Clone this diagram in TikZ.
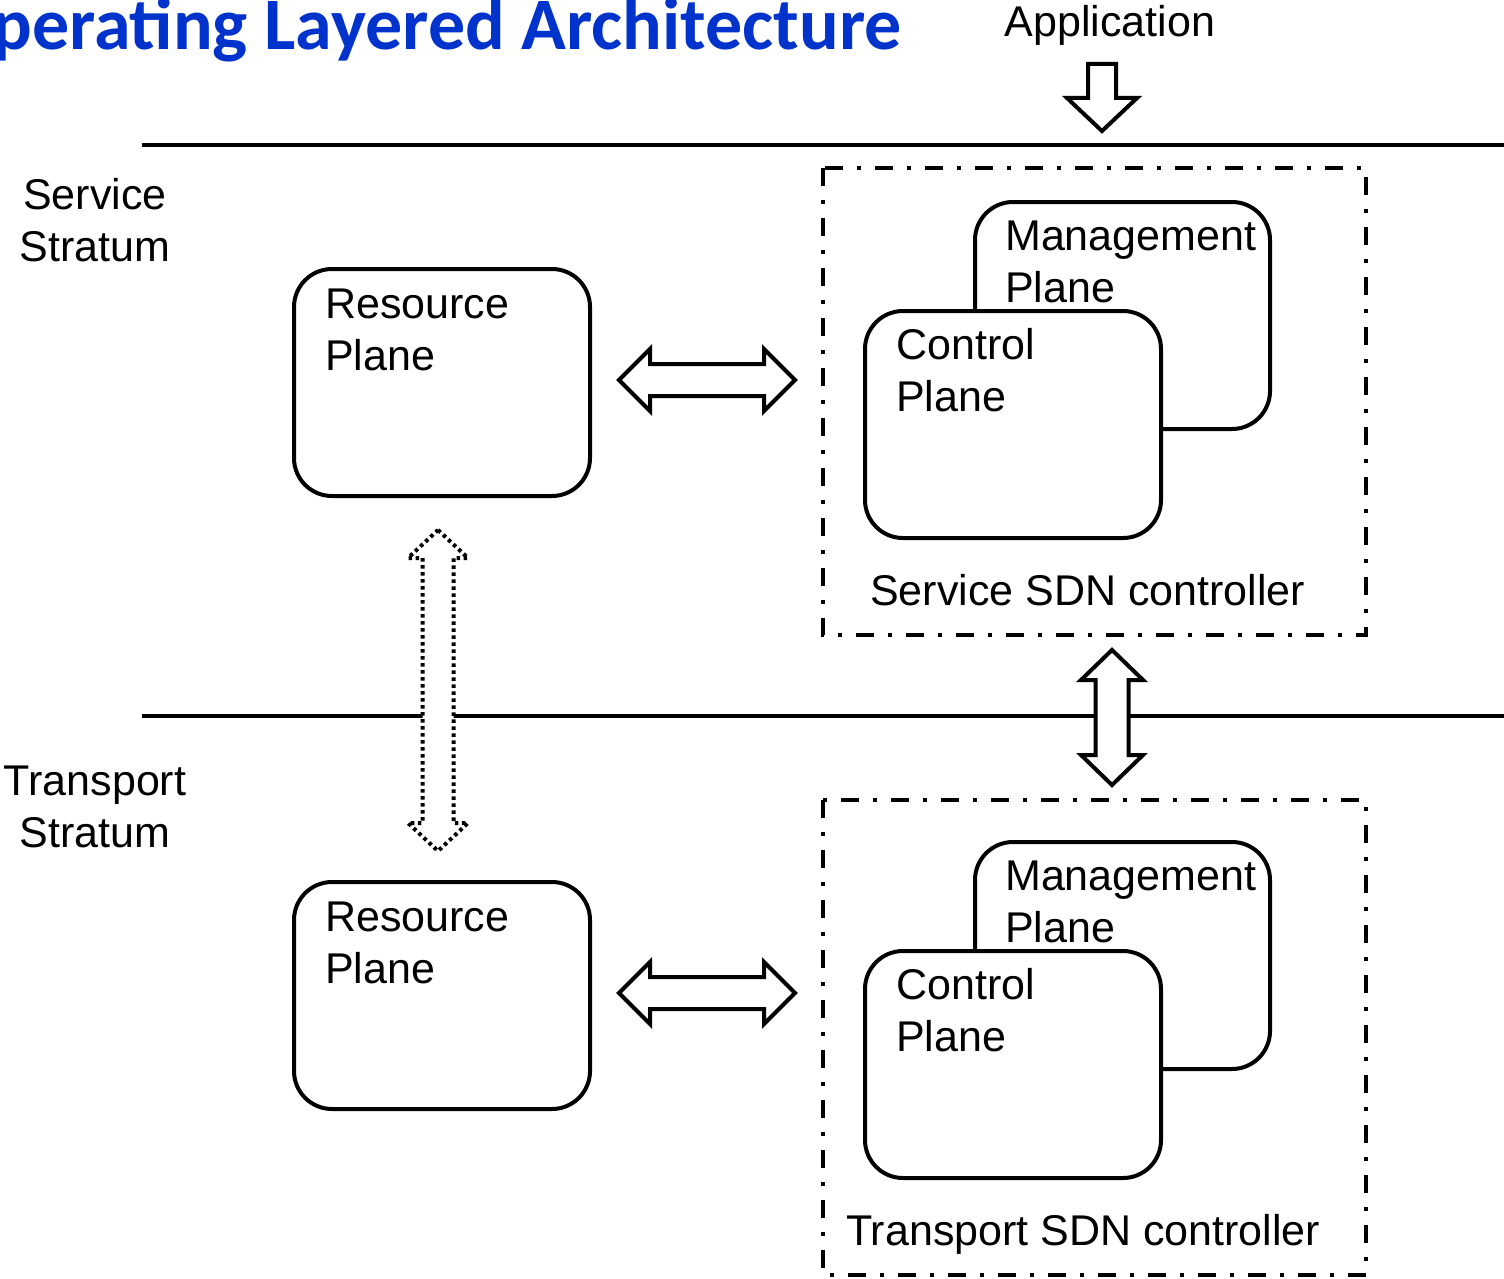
\documentclass[tikz,border=0pt]{standalone}
\usepackage{fontspec}
\setmainfont{Liberation Sans}
\newfontfamily\titlefont{Carlito}
\usetikzlibrary{calc}
\definecolor{titleblue}{RGB}{0,51,204}
% horizontal double block arrow: style, left tip x, right tip x, cy, shaft half, head half, head length
\newcommand\hdblock[7]{%
  \draw[#1] (#2,#4) -- (#2+#7,#4-#6) -- (#2+#7,#4-#5) -- (#3-#7,#4-#5) -- (#3-#7,#4-#6) -- (#3,#4)
    -- (#3-#7,#4+#6) -- (#3-#7,#4+#5) -- (#2+#7,#4+#5) -- (#2+#7,#4+#6) -- cycle;}
% vertical double block arrow: style, cx, top tip y, bottom tip y, shaft half, head half, head length
\newcommand\vdblock[7]{%
  \draw[#1] (#2,#3) -- (#2+#6,#3+#7) -- (#2+#5,#3+#7) -- (#2+#5,#4-#7) -- (#2+#6,#4-#7) -- (#2,#4)
    -- (#2-#6,#4-#7) -- (#2-#5,#4-#7) -- (#2-#5,#3+#7) -- (#2-#6,#3+#7) -- cycle;}
\begin{document}
\begin{tikzpicture}[x=1pt,y=-1pt,
  box/.style={draw,line width=4pt,rounded corners=38pt,fill=white,inner sep=0pt,outer sep=0pt,anchor=north west},
  lbl/.style={inner sep=0pt,font=\fontsize{43}{52}\selectfont,anchor=base west},
  clbl/.style={inner sep=0pt,font=\fontsize{43}{52}\selectfont,anchor=base},
  ctrl/.style={draw,line width=4pt,dash pattern=on 18pt off 14pt on 4pt off 14pt},
  blk/.style={draw,line width=4pt,fill=white,line join=miter},
  dotblk/.style={draw,line width=4pt,fill=white,dash pattern=on 3.5pt off 3.5pt},
  stratum/.style={line width=4pt}]
\useasboundingbox (0,0) rectangle (1504,1279);

% title
\node[inner sep=0pt,anchor=base east,text=titleblue,font=\titlefont\bfseries\fontsize{74}{84}\selectfont] (title) at (902,50) {perating Layered Architecture};
\node[clbl] (app) at (1110,37) {Application};

% stratum lines
\coordinate (l1a) at (142,145); \coordinate (l1b) at (1504,145);
\coordinate (l2a) at (142,716); \coordinate (l2b) at (1504,716);
\draw[stratum] (l1a) -- (l1b);
\draw[stratum] (l2a) -- (l2b);

% application arrow
\draw[blk] (1088,64) -- (1116,64) -- (1116,98) -- (1137,98) -- (1102,131) -- (1067,98) -- (1088,98) -- cycle;

% stratum labels
\node[clbl] (ss1) at (95,209) {Service};
\node[clbl] (ss2) at (95,261) {Stratum};
\node[clbl] (ts1) at (95,795) {Transport};
\node[clbl] (ts2) at (95,847) {Stratum};

% controller frames
\draw[ctrl] (823,168) rectangle (1366,635);
\draw[ctrl] (823,800) rectangle (1366,1275);

% service stratum
\node[box,minimum width=296pt,minimum height=227pt] (rp1) at (294,269) {};
\node[lbl] (rp1a) at (325,318) {Resource};
\node[lbl] (rp1b) at (325,370) {Plane};

\node[box,minimum width=295pt,minimum height=227pt] (mp1) at (975,202) {};
\node[lbl] (mp1a) at (1005,250) {Management};
\node[lbl] (mp1b) at (1005,302) {Plane};
\node[box,minimum width=296pt,minimum height=227pt] (cp1) at (865,311) {};
\node[lbl] (cp1a) at (896,359) {Control};
\node[lbl] (cp1b) at (896,411) {Plane};
\node[lbl] (sc) at (870,605) {Service SDN controller};

% transport stratum
\node[box,minimum width=296pt,minimum height=227pt] (rp2) at (294,882) {};
\node[lbl] (rp2a) at (325,931) {Resource};
\node[lbl] (rp2b) at (325,983) {Plane};

\node[box,minimum width=295pt,minimum height=227pt] (mp2) at (975,842) {};
\node[lbl] (mp2a) at (1005,890) {Management};
\node[lbl] (mp2b) at (1005,942) {Plane};
\node[box,minimum width=296pt,minimum height=227pt] (cp2) at (865,951) {};
\node[lbl] (cp2a) at (896,999) {Control};
\node[lbl] (cp2b) at (896,1051) {Plane};
\node[lbl] (tc) at (846,1245) {Transport SDN controller};

% block arrows
\hdblock{blk}{619}{795}{380}{16}{31}{31}
\hdblock{blk}{619}{795}{993}{16}{31}{31}
\vdblock{blk}{1112}{650}{785}{16.5}{31}{30}
\vdblock{dotblk}{438}{530}{851}{15.5}{30}{28}
\end{tikzpicture}
\end{document}
